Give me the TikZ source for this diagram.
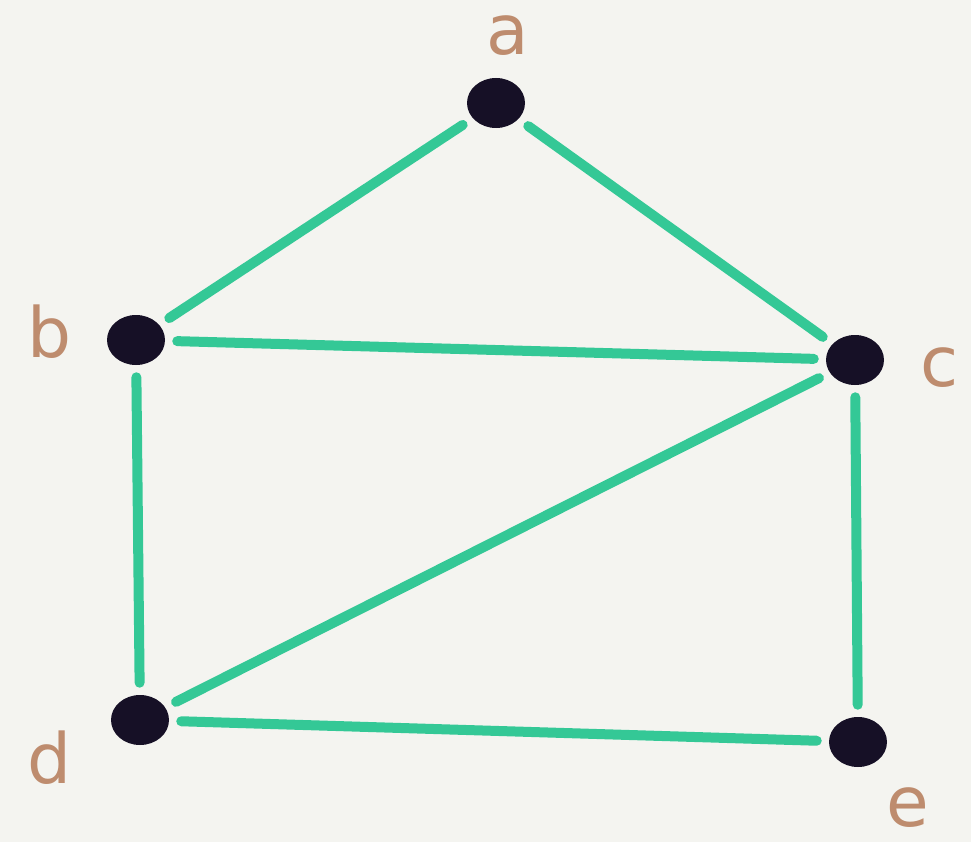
\documentclass[tikz,border=0pt]{standalone}
\usepackage{fontspec}
\setmainfont{DejaVu Sans}
\usetikzlibrary{shapes.geometric}
\definecolor{bgc}{RGB}{244,244,240}
\definecolor{edgec}{RGB}{52,200,150}
\definecolor{dotc}{RGB}{22,16,38}
\definecolor{labc}{RGB}{190,140,110}
\tikzset{
  vert/.style={ellipse, fill=dotc, draw=none, minimum width=58*0.75pt, minimum height=50*0.75pt, inner sep=0pt},
  lab/.style={text=labc, font=\fontsize{52}{52}\selectfont, inner sep=0pt},
  edg/.style={draw=edgec, line width=10*0.75pt, line cap=round, shorten >=12*0.75pt, shorten <=12*0.75pt}
}
\begin{document}
\begin{tikzpicture}[x=0.75pt, y=-0.75pt]
\fill[bgc] (0,0) rectangle (971,842);
\useasboundingbox (0,0) rectangle (971,842);
\node[vert] (a) at (496,103) {};
\node[vert] (b) at (136,340) {};
\node[vert] (c) at (855,360) {};
\node[vert] (d) at (140,720) {};
\node[vert] (e) at (858,742) {};
\node[lab] (la) at (508,36) {a};
\node[lab] (lb) at (50,332) {b};
\node[lab] (lc) at (940,368) {c};
\node[lab] (ld) at (50,758) {d};
\node[lab] (le) at (908,808) {e};
\draw[edg] (a) -- (b);
\draw[edg] (a) -- (c);
\draw[edg] (b) -- (c);
\draw[edg] (b) -- (d);
\draw[edg] (c) -- (d);
\draw[edg] (c) -- (e);
\draw[edg] (d) -- (e);
\end{tikzpicture}
\end{document}
